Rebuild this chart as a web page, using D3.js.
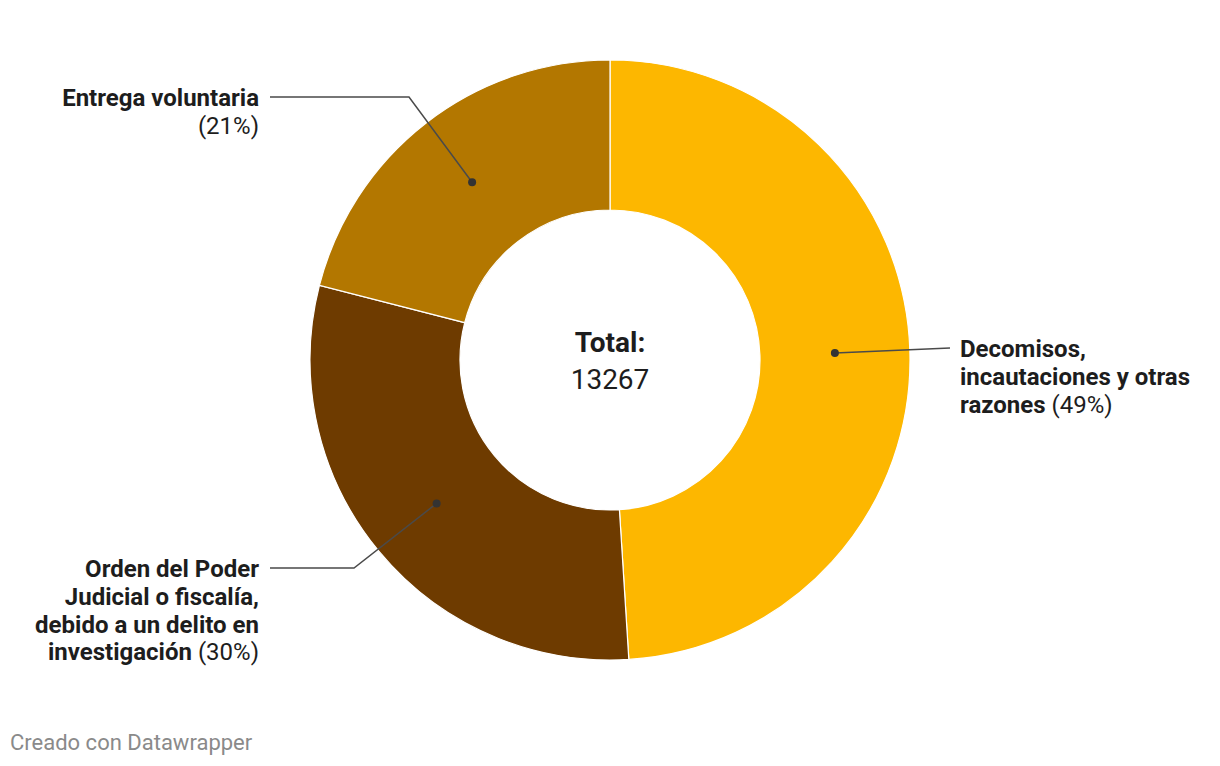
<!DOCTYPE html>
<html><head><meta charset="utf-8">
<script src="https://cdn.jsdelivr.net/npm/d3@7"></script>
<style>
html,body{margin:0;padding:0;background:#fff;}
svg{display:block;font-family:Roboto,"Noto Sans",sans-serif;}
</style></head>
<body>
<svg id="chart" width="1220" height="766"></svg>
<script>
const categories = ["Decomisos, incautaciones y otras razones", "Orden del Poder Judicial o fiscalía, debido a un delito en investigación", "Entrega voluntaria"];
const values = [6501, 3980, 2786];
const percentLabels = ["49%", "30%", "21%"];
const labelLines = [
  ["Decomisos,", "incautaciones y otras", "razones"],
  ["Orden del Poder", "Judicial o fiscalía,", "debido a un delito en", "investigación"],
  ["Entrega voluntaria"]
];
const colors = ["#fdb700", "#b37700", "#6e3b00"];
const totalLabel = "Total:";
const footer = "Creado con Datawrapper";

const svg = d3.select("#chart");
const cx = 610, cy = 360, R = 300, r = 150;
const g = svg.append("g").attr("transform", `translate(${cx},${cy})`);

const color = d3.scaleOrdinal().domain(categories).range([colors[0], colors[2], colors[1]]);
const data = categories.map((c, i) => ({cat: c, value: values[i], pct: percentLabels[i], lines: labelLines[i]}));
const pie = d3.pie().sort(null).value(d => d.value);
const arcs = pie(data);
const arc = d3.arc().innerRadius(r).outerRadius(R);

g.selectAll("path.slice").data(arcs).join("path")
  .attr("class", "slice")
  .attr("d", arc)
  .attr("fill", d => color(d.data.cat))
  .attr("stroke", "#fff").attr("stroke-width", 1.2);

// center total
const total = d3.sum(values);
g.append("text").attr("text-anchor", "middle").attr("y", -8)
  .attr("font-size", 28).attr("font-weight", 700).attr("fill", "#1d1d1d").text(totalLabel);
g.append("text").attr("text-anchor", "middle").attr("y", 29)
  .attr("font-size", 28).attr("font-weight", 400).attr("fill", "#1d1d1d").text(total);

const mid = d => (d.startAngle + d.endAngle) / 2;
const dotR = (R + r) / 2;
const layout = [
  {side: "right", textX: 960, firstBase: 357, elbowX: 950},
  {side: "left", textX: 259, firstBase: 577, elbowX: 354, lineY: 568},
  {side: "left", textX: 259, firstBase: 106, elbowX: 409, lineY: 97}
];
const lh = 27.8;

arcs.forEach((d, i) => {
  const a = mid(d);
  const px = cx + dotR * Math.sin(a), py = cy - dotR * Math.cos(a);
  const L = layout[i];
  let pts;
  if (L.side === "right") {
    pts = [[px, py], [L.elbowX, L.firstBase - 9]];
  } else {
    pts = [[px, py], [L.elbowX, L.lineY], [L.textX + 11, L.lineY]];
  }
  svg.append("path").attr("d", d3.line()(pts)).attr("fill", "none")
    .attr("stroke", "#4a4a4a").attr("stroke-width", 1.5);
  svg.append("circle").attr("cx", px).attr("cy", py).attr("r", 4).attr("fill", "#333");

  const t = svg.append("text").attr("font-size", 24).attr("fill", "#1d1d1d")
    .attr("text-anchor", L.side === "right" ? "start" : "end");
  const lines = d.data.lines;
  lines.forEach((ln, j) => {
    const ts = t.append("tspan").attr("x", L.textX).attr("y", L.firstBase + j * lh);
    ts.append("tspan").attr("font-weight", 700).text(ln);
    if (j === lines.length - 1) {
      if (lines.length === 1) {
        t.append("tspan").attr("x", L.textX).attr("y", L.firstBase + (j + 1) * lh)
          .attr("font-weight", 400).text("(" + d.data.pct + ")");
      } else {
        ts.append("tspan").attr("font-weight", 400).text(" (" + d.data.pct + ")");
      }
    }
  });
});

svg.append("text").attr("x", 10).attr("y", 750).attr("font-size", 22)
  .attr("fill", "#8a8a8a").text(footer);
</script>
</body></html>
